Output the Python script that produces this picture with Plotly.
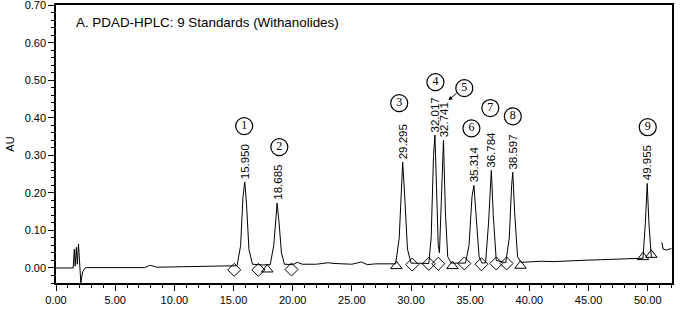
import plotly.graph_objects as go

# ---- data ----
time_min = [0.0, 1.45, 1.55, 1.62, 1.72, 1.80, 1.90, 2.00, 2.10, 2.25, 2.45, 2.6, 5.0, 7.5, 7.9, 8.1, 8.5, 10.0, 12.0, 14.0,
            15.3, 15.6, 15.8, 15.95, 16.1, 16.3, 16.6, 17.5,
            18.1, 18.4, 18.6, 18.685, 18.85, 19.05, 19.3, 20.0, 20.4, 20.8, 22.0, 23.0, 23.5, 25.0, 25.8, 26.3, 27.0, 28.6,
            28.7, 29.0, 29.2, 29.295, 29.45, 29.7, 30.0, 31.5,
            31.7, 31.9, 32.017, 32.15, 32.3, 32.4, 32.55, 32.741, 32.9, 33.1, 33.4,
            34.6, 34.9, 35.15, 35.314, 35.5, 35.75, 36.0,
            36.3, 36.55, 36.784, 36.95, 37.2, 38.0,
            38.3, 38.5, 38.597, 38.75, 39.0, 39.3, 40.0, 41.0, 42.0, 43.0, 44.0, 45.0, 46.0, 47.0, 48.0, 49.5,
            49.6, 49.8, 49.955, 50.1, 50.3, 50.4, None, 51.2, 51.3, 51.6, 52.0]
absorbance = [0.0, 0.0, 0.05, 0.005, 0.055, 0.01, 0.064, 0.0, -0.04, -0.01, 0.0, 0.001, 0.001, 0.001, 0.007, 0.006, 0.002, 0.003, 0.004, 0.005,
              0.006, 0.06, 0.19, 0.229, 0.17, 0.05, 0.01, 0.008,
              0.009, 0.06, 0.16, 0.173, 0.12, 0.04, 0.01, 0.009, 0.015, 0.01, 0.01, 0.014, 0.012, 0.010, 0.016, 0.009, 0.011, 0.011,
              0.011, 0.08, 0.25, 0.282, 0.2, 0.05, 0.013, 0.012,
              0.08, 0.30, 0.354, 0.22, 0.06, 0.04, 0.2, 0.34, 0.15, 0.03, 0.013,
              0.013, 0.06, 0.19, 0.22, 0.14, 0.03, 0.013,
              0.014, 0.12, 0.26, 0.14, 0.02, 0.014,
              0.08, 0.22, 0.255, 0.15, 0.03, 0.015, 0.016, 0.018, 0.017, 0.019, 0.020, 0.021, 0.022, 0.023, 0.024, 0.025,
              0.026, 0.12, 0.225, 0.12, 0.03, 0.028, None, 0.068, 0.05, 0.048, 0.052]

peak_rt = [15.950, 18.685, 29.295, 32.017, 32.741, 35.314, 36.784, 38.597, 49.955]
peak_height = [0.229, 0.173, 0.282, 0.354, 0.340, 0.220, 0.260, 0.255, 0.225]
peak_number = ["1", "2", "3", "4", "5", "6", "7", "8", "9"]
rt_labels = ["15.950", "18.685", "29.295", "32.017", "32.741", "35.314", "36.784", "38.597", "49.955"]

diamond_t = [15.06, 17.1, 19.9, 30.1, 31.5, 32.3, 34.5, 35.95, 37.2, 38.07]
diamond_au = [-0.005, -0.005, -0.004, 0.009, 0.011, 0.011, 0.012, 0.010, 0.012, 0.012]
triangle_t = [17.85, 28.76, 33.5, 39.25, 49.6, 50.3]
triangle_au = [-0.004, 0.005, 0.005, 0.006, 0.029, 0.035]

# label circle placement
circle_t = [15.9, 18.87, 29.0, 32.06, 34.5, 35.1, 36.7, 38.6, 50.0]
circle_au = [0.378, 0.322, 0.439, 0.495, 0.479, 0.372, 0.426, 0.404, 0.375]

x_ticks = [0, 5, 10, 15, 20, 25, 30, 35, 40, 45, 50]
y_ticks = [0.0, 0.1, 0.2, 0.3, 0.4, 0.5, 0.6, 0.7]

FONT = "Liberation Sans, Arial, sans-serif"

fig = go.Figure()
fig.add_trace(go.Scatter(x=time_min, y=absorbance, mode="lines",
                         line=dict(color="black", width=1), connectgaps=False,
                         hoverinfo="skip", showlegend=False))
fig.add_trace(go.Scatter(x=diamond_t, y=diamond_au, mode="markers",
                         marker=dict(symbol="diamond-open", size=10, color="black", line=dict(width=1)),
                         showlegend=False))
fig.add_trace(go.Scatter(x=triangle_t, y=triangle_au, mode="markers",
                         marker=dict(symbol="triangle-up-open", size=10, color="black", line=dict(width=1)),
                         showlegend=False))
fig.add_trace(go.Scatter(x=circle_t, y=circle_au, mode="markers+text", text=peak_number,
                         textposition="middle center",
                         textfont=dict(family="Liberation Serif, serif", size=12, color="black"),
                         marker=dict(symbol="circle-open", size=17, color="black", line=dict(width=1.2)),
                         showlegend=False))

for rt, h, lab in zip(peak_rt, peak_height, rt_labels):
    fig.add_annotation(x=rt, y=h, text=lab, textangle=-90, showarrow=False,
                       xanchor="center", yanchor="bottom", yshift=1,
                       font=dict(family=FONT, size=11.5, color="black"))

# arrow from circle 5 to its label
fig.add_annotation(x=33.15, y=0.447, ax=33.95, ay=0.468, axref="x", ayref="y",
                   text="", showarrow=True, arrowhead=2, arrowsize=0.8, arrowwidth=1, arrowcolor="black")

fig.add_annotation(x=0.03, y=0.97, xref="paper", yref="paper", xanchor="left", yanchor="top",
                   text="A. PDAD-HPLC: 9 Standards (Withanolides)", showarrow=False,
                   font=dict(family=FONT, size=13.4, color="black"))

fig.update_layout(
    width=681, height=319,
    margin=dict(l=56, r=9, t=5, b=36),
    plot_bgcolor="white", paper_bgcolor="white",
    font=dict(family=FONT, size=11, color="black"),
    xaxis=dict(range=[0, 52.05], tickvals=x_ticks, tickformat=".2f", automargin=False,
               ticks="outside", ticklen=6, tickwidth=1, tickcolor="black",
               minor=dict(dtick=1, ticks="outside", ticklen=3, tickcolor="black"),
               showline=True, linecolor="black", linewidth=1.5, mirror=True,
               showgrid=False, zeroline=False, tickfont=dict(size=11)),
    yaxis=dict(range=[-0.04, 0.7005], tickvals=y_ticks, tickformat=".2f", automargin=False,
               ticklabeloverflow="allow",
               ticks="outside", ticklen=6, tickwidth=1, tickcolor="black",
               minor=dict(dtick=0.02, ticks="outside", ticklen=3, tickcolor="black"),
               showline=True, linecolor="black", linewidth=1.5, mirror=True,
               showgrid=False, zeroline=False, tickfont=dict(size=11),
               title=dict(text="AU", standoff=8, font=dict(size=11))),
)

fig.write_html("out.html")
